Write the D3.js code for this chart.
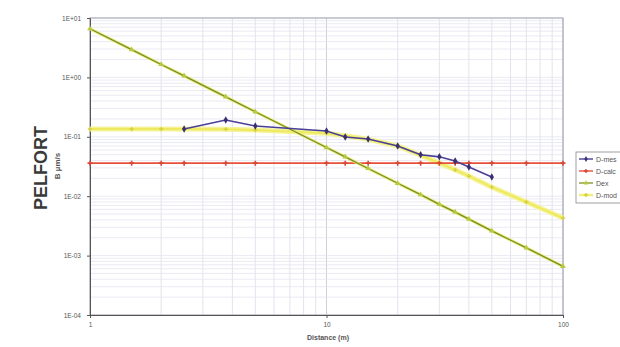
<!DOCTYPE html>
<html>
<head>
<meta charset="utf-8">
<script src="https://cdn.jsdelivr.net/npm/d3@7"></script>
<style>
  html, body { margin: 0; padding: 0; background: #fff; }
  svg { display: block; font-family: "Liberation Sans", Arial, sans-serif; }
</style>
</head>
<body>
<svg id="chart" width="620" height="347"></svg>
<script>
// Distances (m) at which the curves are evaluated
const distances = [1, 1.5, 2, 2.5, 3.75, 5, 10, 12, 15, 20, 25, 30, 35, 40, 50, 70, 100];

// Measured series (starts at 2.5 m, ends at 50 m)
const measDist = [2.5, 3.75, 5, 10, 12, 15, 20, 25, 30, 35, 40, 50];
const measVals = [0.135, 0.192, 0.152, 0.125, 0.099, 0.092, 0.070, 0.050, 0.046, 0.039, 0.031, 0.021];

// Constant calculated level
const calcVals = [0.036, 0.036, 0.036, 0.036, 0.036, 0.036, 0.036, 0.036, 0.036, 0.036, 0.036, 0.036, 0.036, 0.036, 0.036, 0.036, 0.036];

// Exposure decreasing with distance
const dexVals = [6.6, 2.93, 1.65, 1.06, 0.47, 0.264, 0.066, 0.046, 0.0293, 0.0165, 0.0106, 0.0073, 0.0054, 0.0041, 0.0026, 0.00135, 0.00066];

// Model curve: flat near field, falling off far away
const modVals = [0.135, 0.135, 0.135, 0.135, 0.134, 0.13, 0.115, 0.104, 0.091, 0.070, 0.049, 0.036, 0.0278, 0.0218, 0.0142, 0.0080, 0.0043];

const seriesNames = ["D-mes", "D-calc", "Dex", "D-mod"];
const yTicks = [1e-4, 1e-3, 1e-2, 1e-1, 1e0, 1e1];
const xTicks = [1, 10, 100];

const svg = d3.select("#chart");
const x = d3.scaleLog().domain([1, 100]).range([90, 563]);
const y = d3.scaleLog().domain([1e-4, 10]).range([315, 18]);

// Grid
const grid = svg.append("g");
const minorX = [];
for (let dec = 1; dec < 100; dec *= 10) for (let k = 1; k < 10; k++) minorX.push(dec * k);
minorX.push(100);
grid.selectAll("line.vx").data(minorX).join("line")
  .attr("x1", d => x(d)).attr("x2", d => x(d))
  .attr("y1", 18).attr("y2", 315)
  .attr("stroke", d => (Math.log10(d) % 1 === 0) ? "#c4c4d4" : "#dcdce8")
  .attr("stroke-width", 0.8);
const minorY = [];
for (let e = -4; e < 1; e++) for (let k = 1; k < 10; k++) minorY.push(k * Math.pow(10, e));
minorY.push(10);
grid.selectAll("line.hy").data(minorY).join("line")
  .attr("x1", 90).attr("x2", 563)
  .attr("y1", d => y(d)).attr("y2", d => y(d))
  .attr("stroke", "#e4e4f0")
  .attr("stroke-width", 0.8);

// Plot frame
svg.append("rect").attr("x", 90).attr("y", 18).attr("width", 473).attr("height", 297)
  .attr("fill", "none").attr("stroke", "#a0a0b0").attr("stroke-width", 1);

// Axes
const fmt = v => {
  const e = Math.round(Math.log10(v));
  return "1E" + (e < 0 ? "-" : "+") + String(Math.abs(e)).padStart(2, "0");
};
const yAxis = svg.append("g").attr("transform", "translate(90,0)")
  .call(d3.axisLeft(y).tickValues(yTicks).tickFormat(fmt).tickSize(3));
yAxis.select(".domain").attr("stroke", "#555");
yAxis.selectAll("line").attr("stroke", "#555");
yAxis.selectAll("text").attr("font-size", 6.5).attr("fill", "#555").attr("dx", -3);

const xAxis = svg.append("g").attr("transform", "translate(0,315)")
  .call(d3.axisBottom(x).tickValues(xTicks).tickFormat(d3.format("d")).tickSize(3));
xAxis.select(".domain").attr("stroke", "#555");
xAxis.selectAll("line").attr("stroke", "#555");
xAxis.selectAll("text").attr("font-size", 6.5).attr("fill", "#555").attr("dy", "0.9em");

// Titles
svg.append("text").attr("transform", "translate(47,168) rotate(-90)")
  .attr("text-anchor", "middle").attr("font-size", 18).attr("font-weight", "bold")
  .attr("fill", "#3a3a3a").text("PELFORT");
svg.append("text").attr("transform", "translate(60,166) rotate(-90)")
  .attr("text-anchor", "middle").attr("font-size", 8).attr("font-weight", "bold")
  .attr("fill", "#555").text("B µm/s");
svg.append("text").attr("x", 328).attr("y", 340)
  .attr("text-anchor", "middle").attr("font-size", 7).attr("font-weight", "bold")
  .attr("fill", "#555").text("Distance (m)");

const line = d3.line().x(d => x(d[0])).y(d => y(d[1]));
const zip = (a, b) => a.map((v, i) => [v, b[i]]);

// Model curve (pale yellow band)
const mod = zip(distances, modVals);
svg.append("path").datum(mod).attr("d", line).attr("fill", "none")
  .attr("stroke", "#f5f39a").attr("stroke-width", 5);
svg.append("path").datum(mod).attr("d", line).attr("fill", "none")
  .attr("stroke", "#eeea60").attr("stroke-width", 2);
svg.selectAll("path.modm").data(mod).join("path")
  .attr("d", d3.symbol(d3.symbolCross, 10))
  .attr("transform", d => `translate(${x(d[0])},${y(d[1])})`)
  .attr("fill", "#d8d040");

// Calculated constant level (red)
const calc = zip(distances, calcVals);
svg.append("path").datum(calc).attr("d", line).attr("fill", "none")
  .attr("stroke", "#e85038").attr("stroke-width", 1.6);
svg.selectAll("path.calcm").data(calc).join("path")
  .attr("d", d3.symbol(d3.symbolCross, 14))
  .attr("transform", d => `translate(${x(d[0])},${y(d[1])})`)
  .attr("fill", "#d84a38");

// Exposure (olive line with yellow-green markers)
const dex = zip(distances, dexVals);
svg.append("path").datum(dex).attr("d", line).attr("fill", "none")
  .attr("stroke", "#e8ec70").attr("stroke-width", 3);
svg.append("path").datum(dex).attr("d", line).attr("fill", "none")
  .attr("stroke", "#7c8a2a").attr("stroke-width", 1.3);
svg.selectAll("path.dexm").data(dex).join("path")
  .attr("d", d3.symbol(d3.symbolTriangle, 14))
  .attr("transform", d => `translate(${x(d[0])},${y(d[1])})`)
  .attr("fill", "#b8c840");

// Measured (blue-purple with diamonds)
const meas = zip(measDist, measVals);
svg.append("path").datum(meas).attr("d", line).attr("fill", "none")
  .attr("stroke", "#4a3f98").attr("stroke-width", 1.6);
svg.selectAll("path.measm").data(meas).join("path")
  .attr("d", d3.symbol(d3.symbolDiamond, 16))
  .attr("transform", d => `translate(${x(d[0])},${y(d[1])})`)
  .attr("fill", "#3a3070");

// Legend
const lg = svg.append("g").attr("transform", "translate(576,152)");
lg.append("rect").attr("x", 0).attr("y", 0).attr("width", 60).attr("height", 51)
  .attr("fill", "#fff").attr("stroke", "#888").attr("stroke-width", 0.8);
const legendColors = ["#4a3f98", "#e85038", "#8a9a2a", "#f2f07a"];
const legendSymbols = [d3.symbolDiamond, d3.symbolCross, d3.symbolTriangle, d3.symbolCross];
const legendFill = ["#3a3070", "#d84a38", "#b8c840", "#d8d040"];
seriesNames.forEach((name, i) => {
  const yy = 7 + i * 12;
  lg.append("line").attr("x1", 3).attr("x2", 17).attr("y1", yy).attr("y2", yy)
    .attr("stroke", legendColors[i]).attr("stroke-width", i === 3 ? 2.5 : 1.4);
  lg.append("path").attr("d", d3.symbol(legendSymbols[i], 10))
    .attr("transform", `translate(10,${yy})`).attr("fill", legendFill[i]);
  lg.append("text").attr("x", 20).attr("y", yy + 2.5).attr("font-size", 7)
    .attr("fill", "#555").text(name);
});
</script>
</body>
</html>
